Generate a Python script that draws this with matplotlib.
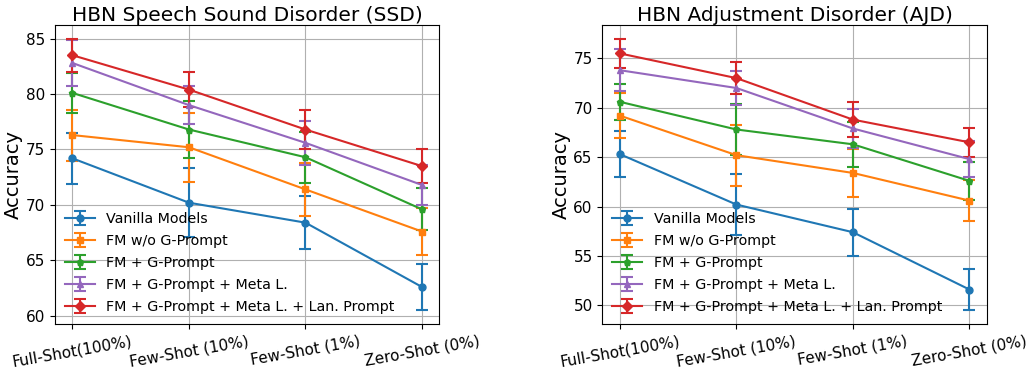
import matplotlib
matplotlib.use('Agg')
import matplotlib.pyplot as plt

# settings on the x axis
settings = ['Full-Shot(100%)', 'Few-Shot (10%)', 'Few-Shot (1%)', 'Zero-Shot (0%)']
methods = ['Vanilla Models', 'FM w/o G-Prompt', 'FM + G-Prompt',
           'FM + G-Prompt + Meta L.', 'FM + G-Prompt + Meta L. + Lan. Prompt']

# accuracy for speech sound disorder
ssd_vanilla = [74.2, 70.2, 68.4, 62.6]
ssd_fm = [76.3, 75.2, 71.4, 67.6]
ssd_gprompt = [80.1, 76.8, 74.3, 69.6]
ssd_meta = [82.8, 79.0, 75.6, 71.8]
ssd_lan = [83.5, 80.4, 76.8, 73.5]

# accuracy for adjustment disorder
ajd_vanilla = [65.3, 60.2, 57.4, 51.6]
ajd_fm = [69.2, 65.2, 63.4, 60.6]
ajd_gprompt = [70.6, 67.8, 66.3, 62.6]
ajd_meta = [73.8, 72.0, 67.9, 64.8]
ajd_lan = [75.5, 73.0, 68.8, 66.5]

# std (same for both datasets)
err_vanilla = [2.3, 3.1, 2.4, 2.1]
err_fm = [2.3, 3.1, 2.4, 2.1]
err_gprompt = [1.8, 2.6, 2.3, 1.9]
err_meta = [2.1, 1.7, 2.0, 1.8]
err_lan = [1.5, 1.6, 1.8, 1.5]

markers = ['o', 's', 'p', '^', 'D']
colors = ['tab:blue', 'tab:orange', 'tab:green', 'tab:purple', 'tab:red']

fig, axes = plt.subplots(1, 2, figsize=(10.28, 3.68), dpi=100)
fig.subplots_adjust(left=0.0535, right=0.960, bottom=0.12, top=0.932, wspace=0.424)

panels = [
    ('HBN Speech Sound Disorder (SSD)', [ssd_vanilla, ssd_fm, ssd_gprompt, ssd_meta, ssd_lan]),
    ('HBN Adjustment Disorder (AJD)', [ajd_vanilla, ajd_fm, ajd_gprompt, ajd_meta, ajd_lan]),
]
errors = [err_vanilla, err_fm, err_gprompt, err_meta, err_lan]
x = list(range(len(settings)))

for ax, (title, series) in zip(axes, panels):
    for vals, err, name, m, c in zip(series, errors, methods, markers, colors):
        ax.errorbar(x, vals, yerr=err, label=name, marker=m, color=c,
                    markersize=5, capsize=4.5, linewidth=1.5, elinewidth=1.5,
                    capthick=1.5)
    ax.set_title(title, fontsize=14.5, pad=3)
    ax.set_ylabel('Accuracy', fontsize=14, labelpad=2)
    ax.set_xticks(x)
    ax.set_xticklabels(settings, rotation=10, fontsize=11)
    ax.tick_params(axis='y', labelsize=11)
    ax.grid(True)
    ax.legend(loc='lower left', fontsize=10.3, frameon=False, borderaxespad=0.3,
              handlelength=2.1, labelspacing=0.55)

plt.savefig('out.png', dpi=100)
